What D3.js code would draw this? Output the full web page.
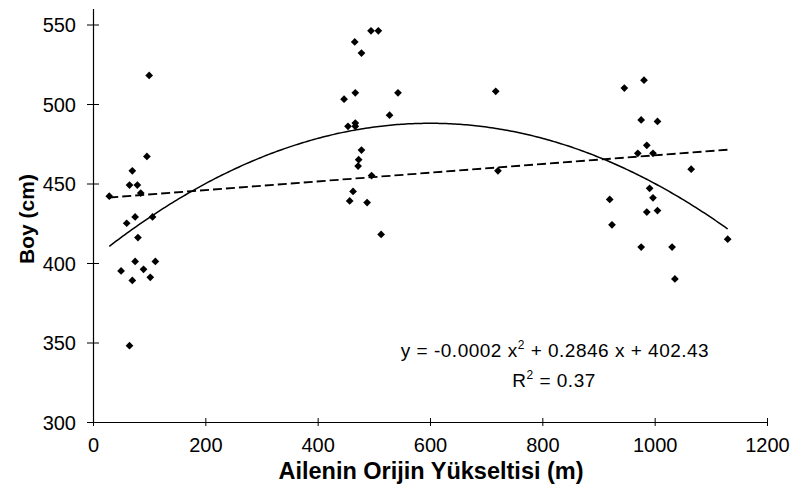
<!DOCTYPE html>
<html>
<head>
<meta charset="utf-8">
<script src="https://cdn.jsdelivr.net/npm/d3@7"></script>
<style>
  html, body { margin: 0; padding: 0; background: #fff; }
  svg { display: block; }
  text { font-family: "Liberation Sans", Arial, sans-serif; fill: #000; }
</style>
</head>
<body>
<svg id="chart" width="792" height="500"></svg>
<script>
// Family origin elevation (m) and height (cm)
const elevation = [
  29, 50, 60, 65, 65, 70, 70, 75, 75, 79, 80, 85, 90, 96, 100, 102, 106, 111,
  447, 454, 457, 463, 466, 467, 467, 467, 472, 473, 478, 478, 488, 495, 496, 508, 513, 528, 543,
  717, 721,
  920, 924, 946, 970, 976, 976, 981, 986, 986, 991, 997, 997, 1005, 1005, 1031, 1036, 1065, 1130
];
const heightCm = [
  442, 395, 425, 449, 348, 458, 389, 429, 401, 449, 416, 444, 396, 467, 518, 391, 429, 401,
  503, 486, 439, 445, 539, 507, 488, 486, 461, 465, 532, 471, 438, 546, 455, 546, 418, 493, 507,
  508, 458,
  440, 424, 510, 469, 490, 410, 515, 474, 432, 447, 469, 441, 489, 433, 410, 390, 459, 415
];

// Trendlines: polynomial (a, b, c) and linear (slope, intercept)
const polyCoef = [-0.000237, 0.2846, 402.43];
const linCoef = [0.0273, 440.4];
const rSquared = 0.37;

const xTicks = [0, 200, 400, 600, 800, 1000, 1200];
const yTicks = [300, 350, 400, 450, 500, 550];
const xTitle = "Ailenin Orijin Yükseltisi (m)";
const yTitle = "Boy (cm)";

const svg = d3.select("#chart");
const x = d3.scaleLinear().domain([0, 1200]).range([93, 767]);
const y = d3.scaleLinear().domain([300, 560]).range([422, 8.6]);

// Axes with ticks crossing the axis line
const yAxis = svg.append("g").attr("transform", `translate(${x(0)},0)`)
  .call(d3.axisLeft(y).tickValues(yTicks).tickFormat(d3.format("d"))
    .tickSizeInner(6).tickSizeOuter(0).tickPadding(11));
yAxis.selectAll(".tick").append("line").attr("x1", 0).attr("x2", 6).attr("stroke", "#000");
yAxis.selectAll("text").style("font-size", "20px").attr("dy", "0.36em");

const xAxis = svg.append("g").attr("transform", `translate(0,${y(300)})`)
  .call(d3.axisBottom(x).tickValues(xTicks).tickFormat(d3.format("d"))
    .tickSizeInner(4).tickSizeOuter(0).tickPadding(12));
xAxis.selectAll(".tick").append("line").attr("y1", 0).attr("y2", -4).attr("stroke", "#000");
xAxis.selectAll("text").style("font-size", "20px");
svg.selectAll(".domain").attr("stroke", "#000").attr("stroke-width", 1.2);

// Axis titles
svg.append("text").attr("x", 431).attr("y", 479).attr("text-anchor", "middle")
  .style("font-size", "23.5px").style("font-weight", "bold").text(xTitle);
svg.append("text").attr("transform", "translate(34,219) rotate(-90)").attr("text-anchor", "middle")
  .style("font-size", "21px").style("font-weight", "bold").text(yTitle);

// Trendlines over the data range
const [xmin, xmax] = d3.extent(elevation);
const poly = v => polyCoef[0] * v * v + polyCoef[1] * v + polyCoef[2];
const curvePts = d3.range(xmin, xmax + 1, 4).concat([xmax]);
svg.append("path")
  .attr("d", d3.line().x(v => x(v)).y(v => y(poly(v)))(curvePts))
  .attr("fill", "none").attr("stroke", "#000").attr("stroke-width", 1.5);

svg.append("line")
  .attr("x1", x(xmin)).attr("y1", y(linCoef[0] * xmin + linCoef[1]))
  .attr("x2", x(xmax)).attr("y2", y(linCoef[0] * xmax + linCoef[1]))
  .attr("stroke", "#000").attr("stroke-width", 1.8).attr("stroke-dasharray", "9,4");

// Data points as diamonds
const pts = elevation.map((e, i) => ({ e, h: heightCm[i] }));
svg.append("g").selectAll("path").data(pts).join("path")
  .attr("d", d3.symbol(d3.symbolSquare, 30)())
  .attr("transform", d => `translate(${x(d.e)},${y(d.h)}) rotate(45)`)
  .attr("fill", "#000");

// Equation label (plain hyphen for the sign)
const num = (v, p) => v.toFixed(p).replace("\u2212", "-");
const eq = svg.append("text").attr("x", 555).attr("y", 357).attr("text-anchor", "middle")
  .style("font-size", "19px").style("letter-spacing", "0.5px");
eq.append("tspan").text(`y = ${num(polyCoef[0], 4)} x`);
eq.append("tspan").attr("dy", -8).style("font-size", "12px").text("2");
eq.append("tspan").attr("dy", 8).text(` + ${num(polyCoef[1], 4)} x + ${num(polyCoef[2], 2)}`);

const r2 = svg.append("text").attr("x", 554).attr("y", 387).attr("text-anchor", "middle")
  .style("font-size", "19px").style("letter-spacing", "0.5px");
r2.append("tspan").text("R");
r2.append("tspan").attr("dy", -8).style("font-size", "12px").text("2");
r2.append("tspan").attr("dy", 8).text(` = ${rSquared}`);
</script>
</body>
</html>
